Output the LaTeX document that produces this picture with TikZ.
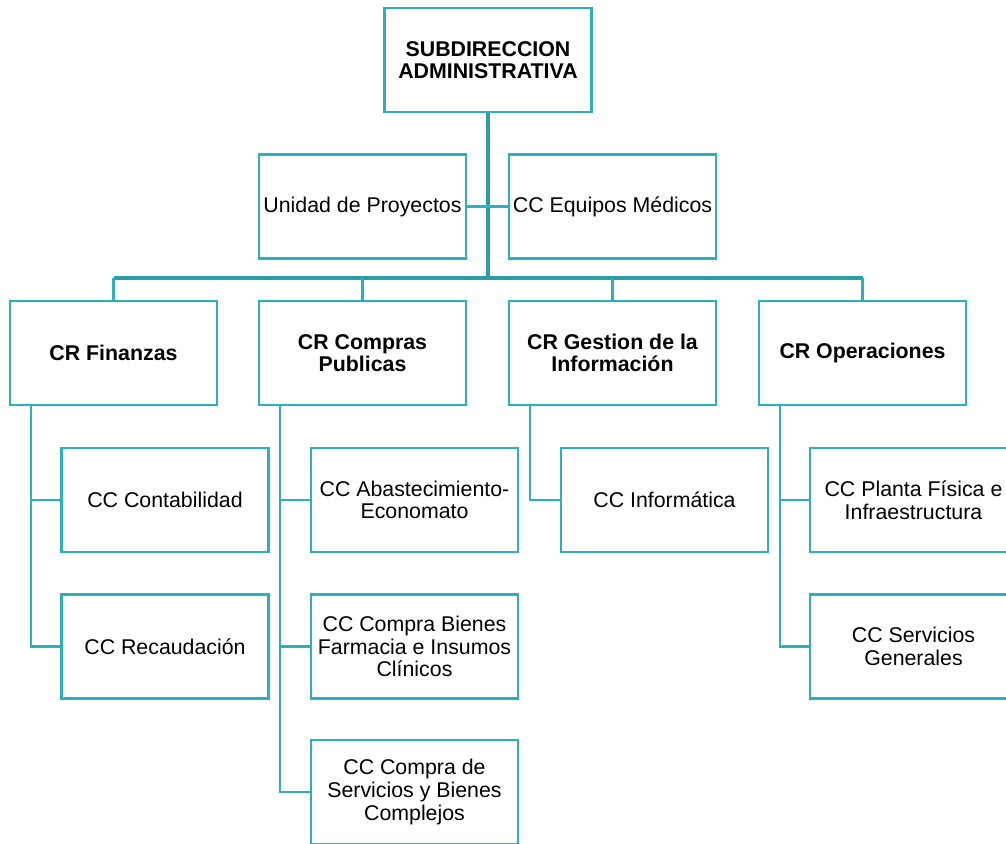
\documentclass[tikz,border=0pt]{standalone}
\usepackage{fontspec}
\setmainfont{Liberation Sans}
\usetikzlibrary{calc, backgrounds}
\definecolor{boxteal}{HTML}{2DB0BD}
\definecolor{linkteal}{HTML}{2A9EA8}

\begin{document}
\begin{tikzpicture}[
    x=0.75pt, y=-0.75pt,
    font=\fontsize{16}{17}\selectfont,
    % ── shared styles ──
    unit box/.style={draw=boxteal, line width=1.9pt, fill=white, align=center,
        minimum width=155pt, minimum height=78pt, inner sep=2pt},
    head box/.style={unit box, font=\fontsize{16}{17}\selectfont\bfseries},
    link/.style={draw=boxteal, line width=1.7pt},
    trunk/.style={draw=linkteal, line width=2.3pt},
]

% ══════════════════════════════════════════════════════════════════════
%  FRAME — page size in reference pixels, right and bottom boxes cut off
% ══════════════════════════════════════════════════════════════════════
\useasboundingbox (0,0) rectangle (1006,843);
\clip (0,0) rectangle (1006,843);
\def\busY{278}    \def\branch{22}
\def\rowA{500}    \def\rowB{646.5}  \def\rowC{792}

% ══════════════════════════════════════════════════════════════════════
%  HEAD + STAFF UNITS
% ══════════════════════════════════════════════════════════════════════
\node[head box] (top) at (488,60) {SUBDIRECCION\\ADMINISTRATIVA};
\node[unit box] (uni) at (362.5,206.5) {Unidad de Proyectos};
\node[unit box] (equ) at (612.5,206.5) {CC Equipos Médicos};
\coordinate (bus) at (488,\busY);

% ══════════════════════════════════════════════════════════════════════
%  CR ROW
% ══════════════════════════════════════════════════════════════════════
\node[head box] (fin) at (113.5,353) {CR Finanzas};
\node[head box] (com) at (362.5,353) {CR Compras\\Publicas};
\node[head box] (ges) at (612.5,353) {CR Gestion de la\\Información};
\node[head box] (ope) at (862.5,353) {CR Operaciones};

% ══════════════════════════════════════════════════════════════════════
%  CC UNITS under each CR
% ══════════════════════════════════════════════════════════════════════
\node[unit box] (cont) at (165,\rowA) {CC Contabilidad};
\node[unit box] (reca) at (165,\rowB) {CC Recaudación};

\node[unit box] (abas) at (414.5,\rowA) {CC Abastecimiento-\\Economato};
\node[unit box] (farm) at (414.5,\rowB) {CC Compra Bienes\\Farmacia e Insumos\\Clínicos};
\node[unit box] (serv) at (414.5,\rowC) {CC Compra de\\Servicios y Bienes\\Complejos};

\node[unit box] (info) at (664.5,\rowA) {CC Informática};

\node[unit box] (plan) at (913.5,\rowA) {CC Planta Física e\\Infraestructura};
\node[unit box] (gene) at (913.5,\rowB) {CC Servicios\\Generales};

% ══════════════════════════════════════════════════════════════════════
%  CONNECTORS (behind the boxes)
% ══════════════════════════════════════════════════════════════════════
\begin{scope}[on background layer]
  \draw[trunk] (top.south) -- (bus);
  \draw[link] (uni.east) -- (equ.west);
  \draw[trunk] (fin.north |- bus) -- (ope.north |- bus);
  \foreach \cr in {fin, com, ges, ope}
    \draw[link] (\cr.north) -- (\cr.north |- bus);
  % side branches
  \draw[link] ($(fin.south west)+(\branch,0)$) |- (reca.west);
  \draw[link] ($(fin.south west)+(\branch,0)$) |- (cont.west);
  \draw[link] ($(com.south west)+(\branch,0)$) |- (serv.west);
  \draw[link] ($(com.south west)+(\branch,0)$) |- (farm.west);
  \draw[link] ($(com.south west)+(\branch,0)$) |- (abas.west);
  \draw[link] ($(ges.south west)+(\branch,0)$) |- (info.west);
  \draw[link] ($(ope.south west)+(\branch,0)$) |- (gene.west);
  \draw[link] ($(ope.south west)+(\branch,0)$) |- (plan.west);
\end{scope}

\end{tikzpicture}
\end{document}
